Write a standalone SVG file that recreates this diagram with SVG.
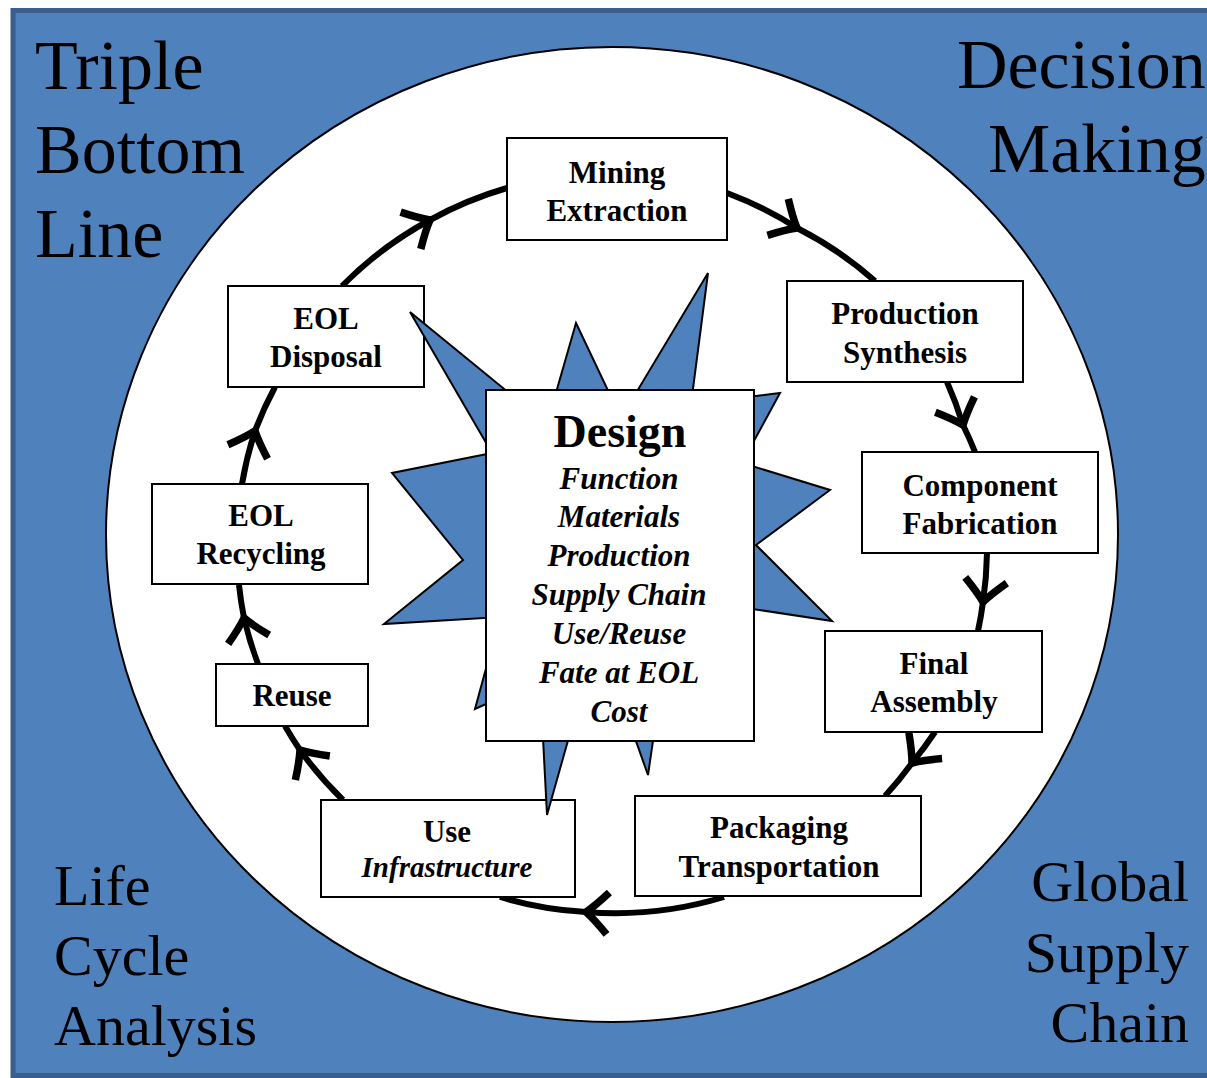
<svg xmlns="http://www.w3.org/2000/svg" width="1207" height="1078" viewBox="0 0 1207 1078">
<style>
.corner{font-family:"Liberation Serif","Times New Roman",serif;fill:#000}
.big{font-size:70px}
.mid{font-size:58px}
.box{fill:#fff;stroke:#000;stroke-width:2}
.lbl{font-family:"Liberation Serif","Times New Roman",serif;font-weight:bold;font-size:31px;text-anchor:middle;fill:#000}
.it{font-style:italic}
.ring{fill:none;stroke:#000;stroke-width:6;marker-mid:url(#chev)}
</style>
<defs>
<marker id="chev" markerUnits="userSpaceOnUse" orient="auto" markerWidth="70" markerHeight="70" viewBox="-35 -35 70 70" refX="0" refY="0" overflow="visible">
<path d="M -22,-21 Q -9,-7 0,0 Q -9,7 -22,21" fill="none" stroke="#000" stroke-width="7.5" stroke-linejoin="round"/>
</marker>
</defs>
<rect x="13" y="10.5" width="1200" height="1065" fill="#4F81BD" stroke="#3A5F8F" stroke-width="5"/>
<ellipse cx="612" cy="534.5" rx="506" ry="487.5" fill="#fff" stroke="#000" stroke-width="2"/>
<g id="corner-text" class="corner">
<text class="big" x="35" y="89">Triple</text>
<text class="big" x="35" y="173">Bottom</text>
<text class="big" x="35" y="257">Line</text>
<text class="big" x="957" y="88">Decision</text>
<text class="big" x="988" y="172">Making</text>
<text class="mid" x="54" y="905">Life</text>
<text class="mid" x="54" y="975">Cycle</text>
<text class="mid" x="54" y="1045">Analysis</text>
<text class="mid" x="1189" y="901" text-anchor="end">Global</text>
<text class="mid" x="1189" y="972" text-anchor="end">Supply</text>
<text class="mid" x="1189" y="1042" text-anchor="end">Chain</text>
</g>
<g id="connectors">
<path class="ring" d="M 342,286 A 372 372 0 0 1 430,220 A 372 372 0 0 1 507,188"/>
<path class="ring" d="M 727,193 A 372 372 0 0 1 797,228 A 372 372 0 0 1 875,281"/>
<path class="ring" d="M 947,382 A 372 372 0 0 1 963,425 A 372 372 0 0 1 975,452"/>
<path class="ring" d="M 987,553 A 372 372 0 0 1 983,602 A 372 372 0 0 1 978,631"/>
<path class="ring" d="M 935,732 A 372 372 0 0 1 912,763 A 372 372 0 0 1 885,796"/>
<path class="ring" d="M 724,897 A 372 372 0 0 1 586,912 A 372 372 0 0 1 500,897"/>
<path class="ring" d="M 343,800 A 372 372 0 0 1 300,750 A 372 372 0 0 1 285,726"/>
<path class="ring" d="M 258,664 A 372 372 0 0 1 244,618 A 372 372 0 0 1 239,585"/>
<path class="ring" d="M 242,484 A 372 372 0 0 1 255,431 A 372 372 0 0 1 275,387"/>
</g>
<g id="mining">
<rect class="box" x="507" y="138" width="220" height="102"/>
<text class="lbl" x="617" y="183">Mining</text>
<text class="lbl" x="617" y="221">Extraction</text>
</g>
<g id="production">
<rect class="box" x="787" y="281" width="236" height="101"/>
<text class="lbl" x="905" y="324">Production</text>
<text class="lbl" x="905" y="363">Synthesis</text>
</g>
<g id="component">
<rect class="box" x="862" y="452" width="236" height="101"/>
<text class="lbl" x="980" y="496">Component</text>
<text class="lbl" x="980" y="534">Fabrication</text>
</g>
<g id="final">
<rect class="box" x="825" y="631" width="217" height="101"/>
<text class="lbl" x="934" y="674">Final</text>
<text class="lbl" x="934" y="712">Assembly</text>
</g>
<g id="packaging">
<rect class="box" x="635" y="796" width="286" height="100"/>
<text class="lbl" x="779" y="838">Packaging</text>
<text class="lbl" x="779" y="877">Transportation</text>
</g>
<g id="use">
<rect class="box" x="321" y="800" width="254" height="97"/>
<text class="lbl" x="447" y="842">Use</text>
<text class="lbl it" x="447" y="877" style="font-size:29px">Infrastructure</text>
</g>
<g id="reuse">
<rect class="box" x="216" y="664" width="152" height="62"/>
<text class="lbl" x="292" y="706">Reuse</text>
</g>
<g id="recycling">
<rect class="box" x="152" y="484" width="216" height="100"/>
<text class="lbl" x="261" y="526">EOL</text>
<text class="lbl" x="261" y="564">Recycling</text>
</g>
<g id="disposal">
<rect class="box" x="228" y="286" width="196" height="101"/>
<text class="lbl" x="326" y="329">EOL</text>
<text class="lbl" x="326" y="367">Disposal</text>
</g>
<g id="star">
<polygon points="576,323 621,418 708,273 691,404 780,393 742,463 830,490 756,545 832,621 674,597 648,775 598,634 547,815 540,680 475,709 500,617 384,624 463,560 392,473 492,453 410,312 547,424" fill="#4F81BD" stroke="#000" stroke-width="2" stroke-linejoin="miter"/>
</g>
<g id="design">
<rect class="box" x="486" y="390" width="268" height="351"/>
<text class="lbl" x="620" y="447" style="font-size:46px">Design</text>
<text class="lbl it" x="619" y="489">Function</text>
<text class="lbl it" x="619" y="527">Materials</text>
<text class="lbl it" x="619" y="566">Production</text>
<text class="lbl it" x="619" y="605">Supply Chain</text>
<text class="lbl it" x="619" y="644">Use/Reuse</text>
<text class="lbl it" x="619" y="683">Fate at EOL</text>
<text class="lbl it" x="619" y="722">Cost</text>
</g>
</svg>
